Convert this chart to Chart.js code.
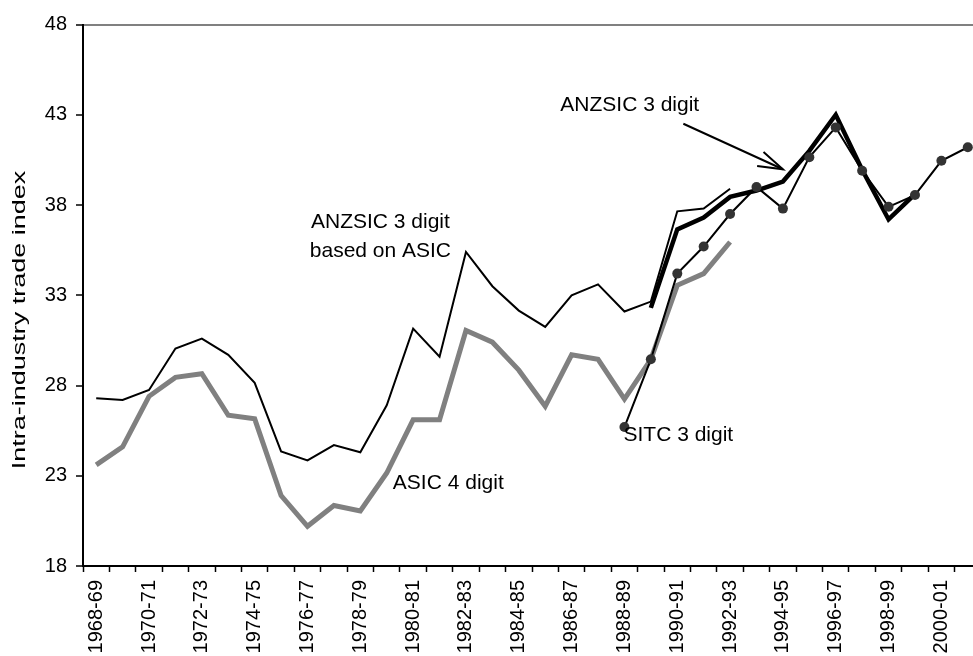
<!DOCTYPE html>
<html>
<head>
<meta charset="utf-8">
<script src="https://cdn.jsdelivr.net/npm/chart.js@4"></script>
<style>
    html, body { margin: 0; padding: 0; overflow: hidden; background: #fff; }
    canvas { display: block; }
</style>
</head>
<body>
<canvas id="tradeChart" width="1000" height="656"></canvas>
<script>
// financial years on the x axis
const years = [
    "1968-69", "1969-70", "1970-71", "1971-72", "1972-73", "1973-74", "1974-75",
    "1975-76", "1976-77", "1977-78", "1978-79", "1979-80", "1980-81", "1981-82",
    "1982-83", "1983-84", "1984-85", "1985-86", "1986-87", "1987-88", "1988-89",
    "1989-90", "1990-91", "1991-92", "1992-93", "1993-94", "1994-95", "1995-96",
    "1996-97", "1997-98", "1998-99", "1999-00", "2000-01", "2001-02"
];

// index values per year, null where a series has no figure
const asic4 = [
    23.6, 24.6, 27.4, 28.45, 28.65, 26.35, 26.15, 21.9, 20.2, 21.35,
    21.05, 23.15, 26.1, 26.1, 31.05, 30.4, 28.85, 26.85, 29.7, 29.45,
    27.25, 29.45, 33.55, 34.2, 35.95,
    null, null, null, null, null, null, null, null, null
];
const anzsicOnAsic = [
    27.3, 27.2, 27.75, 30.05, 30.6, 29.7, 28.15, 24.35, 23.85, 24.7,
    24.3, 26.9, 31.15, 29.6, 35.4, 33.5, 32.15, 31.25, 33.0, 33.6,
    32.1, 32.65, 37.65, 37.8, 38.9,
    null, null, null, null, null, null, null, null, null
];
const anzsic3 = [
    null, null, null, null, null, null, null, null, null, null,
    null, null, null, null, null, null, null, null, null, null,
    null, 32.3, 36.65, 37.3, 38.45, 38.8, 39.3, 41.0, 43.0, 39.95,
    37.2, 38.6, null, null
];
const sitc3 = [
    null, null, null, null, null, null, null, null, null, null,
    null, null, null, null, null, null, null, null, null, null,
    25.7, 29.45, 34.2, 35.7, 37.5, 39.0, 37.8, 40.65, 42.3, 39.9,
    37.9, 38.55, 40.45, 41.2
];

const yTicks = [18, 23, 28, 33, 38, 43, 48];

const FONT = "'Liberation Sans', Arial, Helvetica, sans-serif";
Chart.defaults.font.family = FONT;
Chart.defaults.color = "#000";

// series labels placed in data units (year index, index value) at the text baseline
const notes = [
    { text: "ANZSIC 3 digit", at: [20.2, 43.2] },
    { text: "ANZSIC 3 digit", at: [10.76, 36.75] },
    { text: "based on ASIC", at: [10.76, 35.12] },
    { text: "ASIC 4 digit", at: [13.33, 22.28] },
    { text: "SITC 3 digit", at: [22.04, 24.95] }
];
const arrowFrom = [22.23, 42.5];
const arrowTo = [26.0, 39.98];

const notesPlugin = {
    id: "seriesNotes",
    afterDatasetsDraw(chart) {
        const ctx = chart.ctx;
        const xs = chart.scales.x, ys = chart.scales.y;
        const px = p => [xs.getPixelForValue(p[0]), ys.getPixelForValue(p[1])];

        ctx.save();
        ctx.fillStyle = "#000";
        ctx.font = "21px " + FONT;
        ctx.textAlign = "center";
        ctx.textBaseline = "alphabetic";
        notes.forEach(n => {
            const [x, y] = px(n.at);
            ctx.fillText(n.text, x, y);
        });

        // pointer from the label down to the ANZSIC 3 digit line
        const [x0, y0] = px(arrowFrom);
        const [x1, y1] = px(arrowTo);
        const ang = Math.atan2(y1 - y0, x1 - x0);
        ctx.strokeStyle = "#000";
        ctx.lineWidth = 2;
        ctx.beginPath();
        ctx.moveTo(x0, y0);
        ctx.lineTo(x1, y1);
        ctx.stroke();
        ctx.beginPath();
        ctx.moveTo(x1 - 26 * Math.cos(ang - 0.3), y1 - 26 * Math.sin(ang - 0.3));
        ctx.lineTo(x1, y1);
        ctx.lineTo(x1 - 26 * Math.cos(ang + 0.3), y1 - 26 * Math.sin(ang + 0.3));
        ctx.stroke();

        // vertical axis title, drawn a little stretched along its length
        ctx.translate(chart.chartArea.left - 63, 320);
        ctx.rotate(-Math.PI / 2);
        ctx.scale(1.42, 1);
        ctx.textBaseline = "middle";
        ctx.font = "19px " + FONT;
        ctx.fillText("Intra-industry trade index", 0, 0);
        ctx.restore();
    }
};

const ctx = document.getElementById("tradeChart").getContext("2d");
new Chart(ctx, {
    type: "line",
    data: {
        labels: years,
        datasets: [
            {
                label: "SITC 3 digit",
                data: sitc3,
                borderColor: "#000",
                borderWidth: 2,
                pointRadius: 5,
                pointBackgroundColor: "#333",
                pointBorderWidth: 0
            },
            {
                label: "ANZSIC 3 digit",
                data: anzsic3,
                borderColor: "#000",
                borderWidth: 4.5,
                pointRadius: 0
            },
            {
                label: "ANZSIC 3 digit based on ASIC",
                data: anzsicOnAsic,
                borderColor: "#000",
                borderWidth: 2,
                pointRadius: 0
            },
            {
                label: "ASIC 4 digit",
                data: asic4,
                borderColor: "#808080",
                borderWidth: 5,
                pointRadius: 0
            }
        ]
    },
    options: {
        responsive: false,
        animation: false,
        layout: { padding: { top: 24.5, right: 13.6, left: 0, bottom: 0 } },
        plugins: {
            legend: { display: false },
            tooltip: { enabled: false }
        },
        elements: { line: { tension: 0, borderCapStyle: "butt", borderJoinStyle: "miter" } },
        scales: {
            x: {
                offset: true,
                grid: {
                    offset: true,
                    drawOnChartArea: false,
                    tickColor: "#000",
                    tickLength: 6,
                    tickWidth: 1.5
                },
                border: { color: "#000", width: 2 },
                ticks: {
                    autoSkip: false,
                    maxRotation: 90,
                    minRotation: 90,
                    padding: 8,
                    font: { size: 20 },
                    callback: (v, i) => (i % 2 === 0 ? years[i] : "")
                },
                afterFit: s => { s.height = 90; }
            },
            y: {
                min: 18,
                max: 48,
                afterBuildTicks: s => { s.ticks = yTicks.map(v => ({ value: v })); },
                ticks: { padding: 9, font: { size: 20 } },
                grid: {
                    color: c => (c.tick && c.tick.value === 48 ? "#808080" : "rgba(0,0,0,0)"),
                    lineWidth: 2,
                    tickColor: "#000",
                    tickLength: 7,
                    tickWidth: 1.5
                },
                border: { color: "#000", width: 2 },
                afterFit: s => { s.width = 83; }
            }
        }
    },
    plugins: [notesPlugin]
});
</script>
</body>
</html>
